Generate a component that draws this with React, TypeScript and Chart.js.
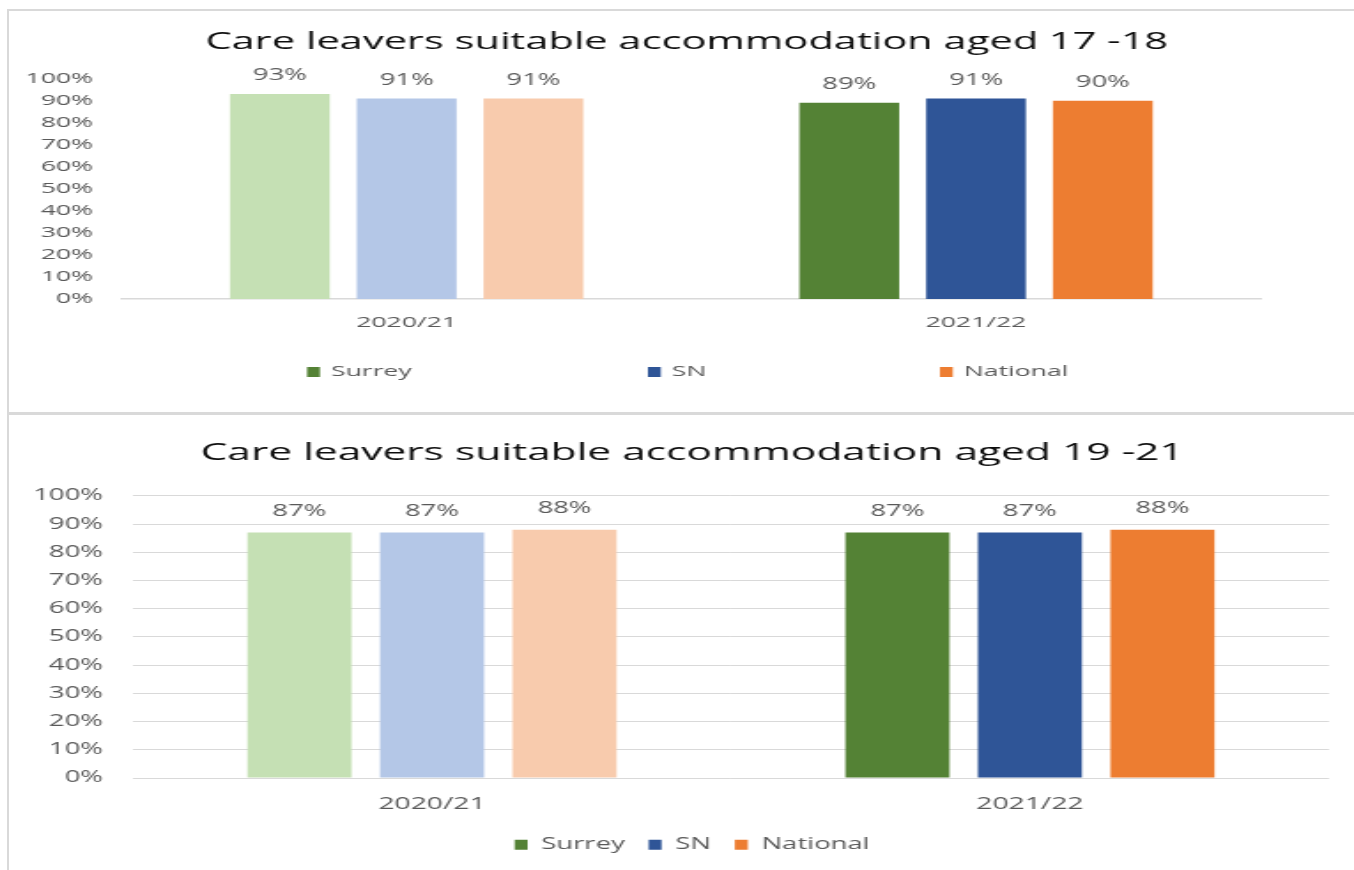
import React, { useEffect, useRef } from 'react';
import { Chart, registerables } from 'chart.js';

Chart.register(...registerables);

// ---------- data ----------
const categories = ['2020/21', '2021/22'];
const seriesNames = ['Surrey', 'SN', 'National'];

const age1718Surrey = [93, 89];
const age1718SN = [91, 91];
const age1718National = [91, 90];

const age1921Surrey = [87, 87];
const age1921SN = [87, 87];
const age1921National = [88, 88];

const titleTop = 'Care leavers suitable accommodation aged 17 -18';
const titleBottom = 'Care leavers suitable accommodation aged 19 -21';

// ---------- styles ----------
const lightColors = ['#c5e0b4', '#b4c7e7', '#f8cbad'];
const darkColors = ['#548235', '#2f5597', '#ed7d31'];
const FONT = "'Open Sans', 'Noto Sans', sans-serif";
const TEXT_GREY = '#595959';
const LINE_GREY = '#d9d9d9';

const CANVAS_W = 760; // internal width, stretched horizontally to the page width
const CSS_W = 1345;

function makeDatasets(values: number[][], cp: number, bp: number) {
  return values.map((v, i) => ({
    label: seriesNames[i],
    data: v,
    backgroundColor: categories.map((_, c) => (c === 0 ? lightColors[i] : darkColors[i])),
    borderWidth: 0,
    categoryPercentage: cp,
    barPercentage: bp,
  }));
}

const valueLabels = {
  id: 'valueLabels',
  afterDatasetsDraw(chart: any, _args: any, opts: any) {
    const ctx = chart.ctx;
    ctx.save();
    ctx.font = `${opts.size}px ${FONT}`;
    ctx.fillStyle = TEXT_GREY;
    ctx.textAlign = 'center';
    ctx.textBaseline = 'middle';
    chart.data.datasets.forEach((ds: any, di: number) => {
      const meta = chart.getDatasetMeta(di);
      meta.data.forEach((el: any, i: number) => {
        ctx.fillText(ds.data[i] + '%', el.x, el.y - opts.offset);
      });
    });
    ctx.restore();
  },
};

const spreadLegend = {
  id: 'spreadLegend',
  afterDraw(chart: any, _args: any, opts: any) {
    if (!opts || !opts.xs) return;
    const ctx = chart.ctx;
    ctx.save();
    ctx.font = `${opts.size}px ${FONT}`;
    ctx.textAlign = 'left';
    ctx.textBaseline = 'middle';
    chart.data.datasets.forEach((ds: any, i: number) => {
      const x = opts.xs[i];
      ctx.fillStyle = darkColors[i];
      ctx.fillRect(x, opts.y - opts.boxH / 2, opts.boxW, opts.boxH);
      ctx.fillStyle = TEXT_GREY;
      ctx.fillText(ds.label, x + opts.boxW + opts.gap, opts.y);
    });
    ctx.restore();
  },
};

function spacerAxis(width: number) {
  return {
    type: 'linear',
    position: 'right',
    display: true,
    grid: { display: false, drawTicks: false },
    border: { display: false },
    ticks: { display: false },
    afterFit: (s: any) => {
      s.width = width;
    },
  };
}

function topConfig(): any {
  return {
    type: 'bar',
    data: {
      labels: categories,
      datasets: makeDatasets([age1718Surrey, age1718SN, age1718National], 0.668, 0.787),
    },
    plugins: [valueLabels, spreadLegend],
    options: {
      responsive: false,
      animation: false,
      devicePixelRatio: 1,
      layout: { padding: { left: 6, right: 0, top: 0, bottom: 0 } },
      plugins: {
        title: {
          display: true,
          text: titleTop,
          font: { family: FONT, size: 23.5, weight: 'normal' },
          color: '#0d0d0d',
          padding: { top: 16, bottom: 22.4 },
        },
        legend: { display: false },
        tooltip: { enabled: false },
        valueLabels: { size: 15.5, offset: 18 },
        spreadLegend: { y: 360, xs: [168.4, 361, 526], boxW: 7.3, boxH: 10, gap: 6.2, size: 15 },
      },
      scales: {
        x: {
          grid: { display: false, drawTicks: false },
          border: { display: true, color: LINE_GREY, width: 1.5 },
          ticks: { font: { family: FONT, size: 15 }, color: TEXT_GREY, padding: 15 },
          afterFit: (s: any) => {
            s.height = 111;
          },
        },
        y: {
          min: 0,
          max: 100,
          ticks: {
            stepSize: 10,
            callback: (v: any) => v + '%',
            font: { family: FONT, size: 15 },
            color: TEXT_GREY,
            padding: 16.3,
          },
          grid: { display: false, drawTicks: false },
          border: { display: false },
          afterFit: (s: any) => {
            s.width = 57.8;
          },
        },
        yRight: spacerAxis(52.7),
      },
    },
  };
}

function bottomConfig(): any {
  return {
    type: 'bar',
    data: {
      labels: categories,
      datasets: makeDatasets([age1921Surrey, age1921SN, age1921National], 0.665, 0.785),
    },
    plugins: [valueLabels],
    options: {
      responsive: false,
      animation: false,
      devicePixelRatio: 1,
      layout: { padding: { left: 12, right: 0, top: 0, bottom: 7.5 } },
      plugins: {
        title: {
          display: true,
          text: titleBottom,
          font: { family: FONT, size: 24, weight: 'normal' },
          color: '#0d0d0d',
          padding: { top: 21.5, bottom: 28.6 },
        },
        legend: {
          display: true,
          position: 'bottom',
          labels: {
            boxWidth: 7.3,
            boxHeight: 10,
            padding: 13.5,
            color: TEXT_GREY,
            font: { family: FONT, size: 15.5 },
            generateLabels: (chart: any) =>
              chart.data.datasets.map((ds: any, i: number) => ({
                text: ds.label,
                fillStyle: darkColors[i],
                strokeStyle: darkColors[i],
                lineWidth: 0,
                hidden: false,
                datasetIndex: i,
                fontColor: TEXT_GREY,
              })),
          },
        },
        tooltip: { enabled: false },
        valueLabels: { size: 15.5, offset: 21 },
      },
      scales: {
        x: {
          grid: { display: false, drawTicks: false },
          border: { display: false },
          ticks: { font: { family: FONT, size: 16 }, color: TEXT_GREY, padding: 16.4 },
          afterFit: (s: any) => {
            s.height = 45.5;
          },
        },
        y: {
          min: 0,
          max: 100,
          ticks: {
            stepSize: 10,
            callback: (v: any) => v + '%',
            font: { family: FONT, size: 15.5 },
            color: TEXT_GREY,
            padding: 17,
          },
          grid: { display: true, drawTicks: false, color: LINE_GREY, lineWidth: 1 },
          border: { display: false },
          afterFit: (s: any) => {
            s.width = 58.1;
          },
        },
        yRight: spacerAxis(14.2),
      },
    },
  };
}

function StretchedChart({ makeConfig, height }: { makeConfig: () => any; height: number }) {
  const ref = useRef<HTMLCanvasElement | null>(null);
  useEffect(() => {
    if (!ref.current) return;
    const chart = new Chart(ref.current, makeConfig());
    return () => chart.destroy();
  }, [makeConfig]);
  return (
    <canvas
      ref={ref}
      width={CANVAS_W}
      height={height}
      style={{ display: 'block', width: CSS_W + 'px', height: height + 'px' }}
    />
  );
}

export default function App() {
  return (
    <div
      style={{
        position: 'absolute',
        left: 0,
        top: 0,
        width: 1354,
        height: 870,
        overflow: 'hidden',
        background: '#ffffff',
      }}
    >
      <div
        style={{
          position: 'absolute',
          left: 7,
          top: 9,
          width: 1400,
          height: 401,
          border: '2px solid ' + LINE_GREY,
        }}
      />
      <div
        style={{
          position: 'absolute',
          left: 7,
          top: 413,
          width: 1400,
          height: 500,
          border: '2px solid ' + LINE_GREY,
        }}
      />
      <div style={{ position: 'absolute', left: 9, top: 12 }}>
        <StretchedChart makeConfig={topConfig} height={398} />
      </div>
      <div style={{ position: 'absolute', left: 9, top: 417 }}>
        <StretchedChart makeConfig={bottomConfig} height={453} />
      </div>
    </div>
  );
}
